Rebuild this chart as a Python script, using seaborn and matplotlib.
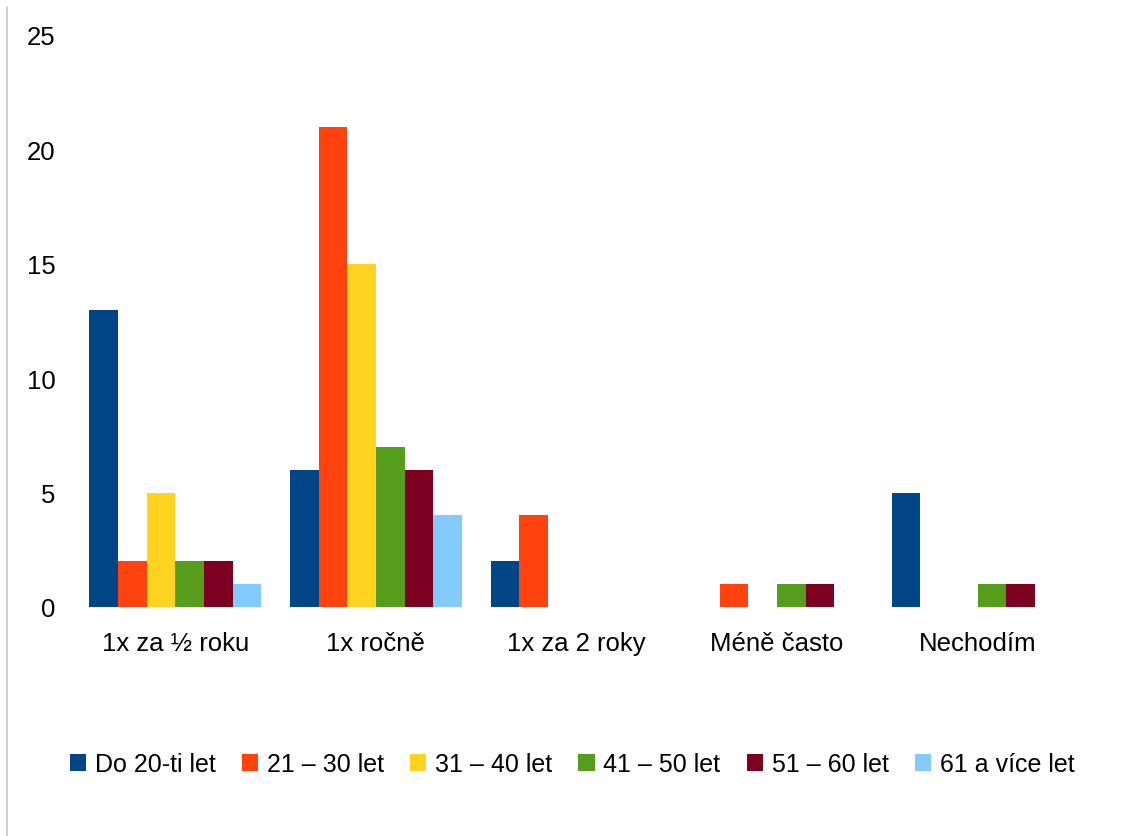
import matplotlib
matplotlib.use("Agg")
import matplotlib.pyplot as plt
from matplotlib.lines import Line2D
from matplotlib.patches import Patch
import seaborn as sns
import pandas as pd

categories = ["1x za ½ roku", "1x ročně", "1x za 2 roky", "Méně často", "Nechodím"]
age_groups = ["Do 20-ti let", "21 – 30 let", "31 – 40 let", "41 – 50 let", "51 – 60 let", "61 a více let"]
do_20 = [13, 6, 2, 0, 5]
age_21_30 = [2, 21, 4, 1, 0]
age_31_40 = [5, 15, 0, 0, 0]
age_41_50 = [2, 7, 0, 1, 1]
age_51_60 = [2, 6, 0, 1, 1]
age_61_plus = [1, 4, 0, 0, 0]
colors = ["#004586", "#ff420e", "#ffd320", "#579d1c", "#7e0021", "#83caff"]
y_ticks = [0, 5, 10, 15, 20, 25]

series = [do_20, age_21_30, age_31_40, age_41_50, age_51_60, age_61_plus]
rows = []
for grp, vals in zip(age_groups, series):
    for cat, v in zip(categories, vals):
        rows.append({"kategorie": cat, "věk": grp, "počet": v})
df = pd.DataFrame(rows)

sns.set_theme(style="white")
plt.rcParams["font.family"] = ["Liberation Sans", "DejaVu Sans"]
plt.rcParams["text.color"] = "#000000"

fig = plt.figure(figsize=(11.33, 8.37), dpi=100)
ax = fig.add_axes([0.0662, 0.2736, 0.8853, 0.6834])

sns.barplot(data=df, x="kategorie", y="počet", hue="věk", order=categories,
            hue_order=age_groups, palette=colors, width=0.857, gap=0,
            saturation=1, linewidth=0, errorbar=None, legend=False, ax=ax)

ax.set_ylim(0, 25)
ax.set_xlim(-0.5, len(categories) - 0.5)
ax.set_yticks(y_ticks)
ax.set_yticklabels([str(t) for t in y_ticks])
ax.set_xlabel("")
ax.set_ylabel("")
for s in ax.spines.values():
    s.set_visible(False)
ax.tick_params(axis="y", length=0, pad=14, labelsize=18.5, labelcolor="#000000")
ax.tick_params(axis="x", length=0, pad=17, labelsize=18.5, labelcolor="#000000")

handles = [Patch(facecolor=c, edgecolor="none") for c in colors]
fig.legend(handles, age_groups, loc="center", bbox_to_anchor=(0.505, 0.086),
           ncol=6, frameon=False, fontsize=18, labelcolor="#000000",
           handlelength=0.65, handleheight=0.65, handletextpad=0.35,
           columnspacing=1.05)

fig.add_artist(Line2D([7 / 1133, 7 / 1133], [0, 1 - 8 / 837],
                      transform=fig.transFigure, color="#c8c8c8", linewidth=1.2))

fig.savefig("out.png", dpi=100, facecolor="white")
